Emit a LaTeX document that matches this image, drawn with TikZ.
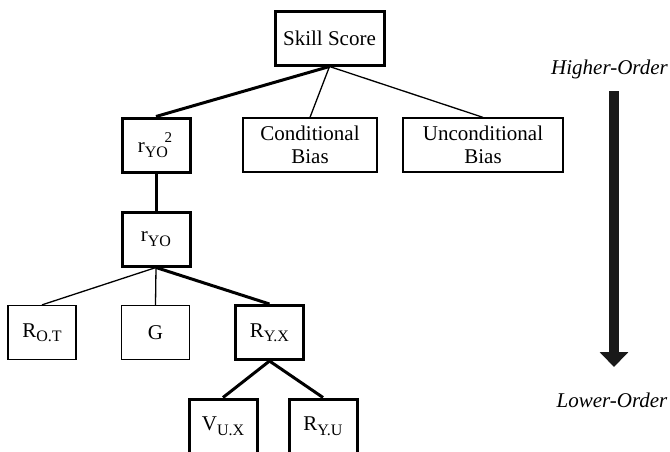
\documentclass[tikz,border=0pt]{standalone}
\usepackage{fontspec}
\setmainfont{Liberation Serif}
\usetikzlibrary{arrows.meta,positioning}

\newcommand{\lowsub}[1]{\raisebox{-4.5pt}{\fontsize{16}{16}\selectfont #1}}
\newcommand{\topsup}[1]{\llap{\raisebox{10pt}{\fontsize{15}{15}\selectfont #1}\hspace{-4pt}}}

\begin{document}
\begin{tikzpicture}[x=1pt,y=-1pt,
  box/.style={draw, line width=1.3pt, inner sep=0pt, minimum width=68pt, minimum height=54pt, align=center, font=\fontsize{21}{23}\selectfont},
  keybox/.style={box, line width=3pt},
  link/.style={line width=1.3pt},
  keylink/.style={line width=3pt},
  order/.style={font=\fontsize{21}{23}\selectfont\itshape, inner sep=0pt, anchor=base}]
\useasboundingbox (0,0) rectangle (670,451);

% Skill score and its parts
\node[keybox, minimum width=109pt] (skill) at (329.5,38) {Skill Score};
\node[keybox] (r2) at (156,145) {r\lowsub{YO}\topsup{2}\hspace{6pt}};
\node[box, minimum width=134pt] (cond) at (310,145) {Conditional\\Bias};
\node[box, minimum width=160pt] (uncond) at (483,145) {Unconditional\\Bias};

\draw[keylink] (skill.south) -- (r2.north);
\draw[link] (skill.south) -- (cond.north);
\draw[link] (skill.south) -- (uncond.north);

% Correlation
\node[keybox] (r) at (156,239) {r\lowsub{YO}};
\draw[keylink] (r2.south) -- (r.north);

% Components of r
\node[box] (rot) at (42,332.5) {R\lowsub{O.T}};
\node[box] (g) at (155.5,332.5) {G};
\node[keybox] (ryx) at (269.5,332.5) {R\lowsub{Y.X}};
\draw[link] (r.south) -- (rot.north);
\draw[link] (r.south) -- (g.north);
\draw[keylink] (r.south) -- (ryx.north);

% Lowest level
\node[keybox] (vux) at (223,426) {V\lowsub{U.X}};
\node[keybox] (ryu) at (323,426) {R\lowsub{Y.U}};
\draw[keylink] (ryx.south) -- (vux.north);
\draw[keylink] (ryx.south) -- (ryu.north);

% Order arrow
\node[order] (higher) at (609.5,74) {Higher-Order};
\node[order] (lower) at (612,407) {Lower-Order};
\coordinate (atop) at (614,91);
\coordinate (abot) at (614,367);
\draw[line width=10pt, black!90, -{Triangle[width=28pt,length=15pt]}] (atop) -- (abot);

\end{tikzpicture}
\end{document}
